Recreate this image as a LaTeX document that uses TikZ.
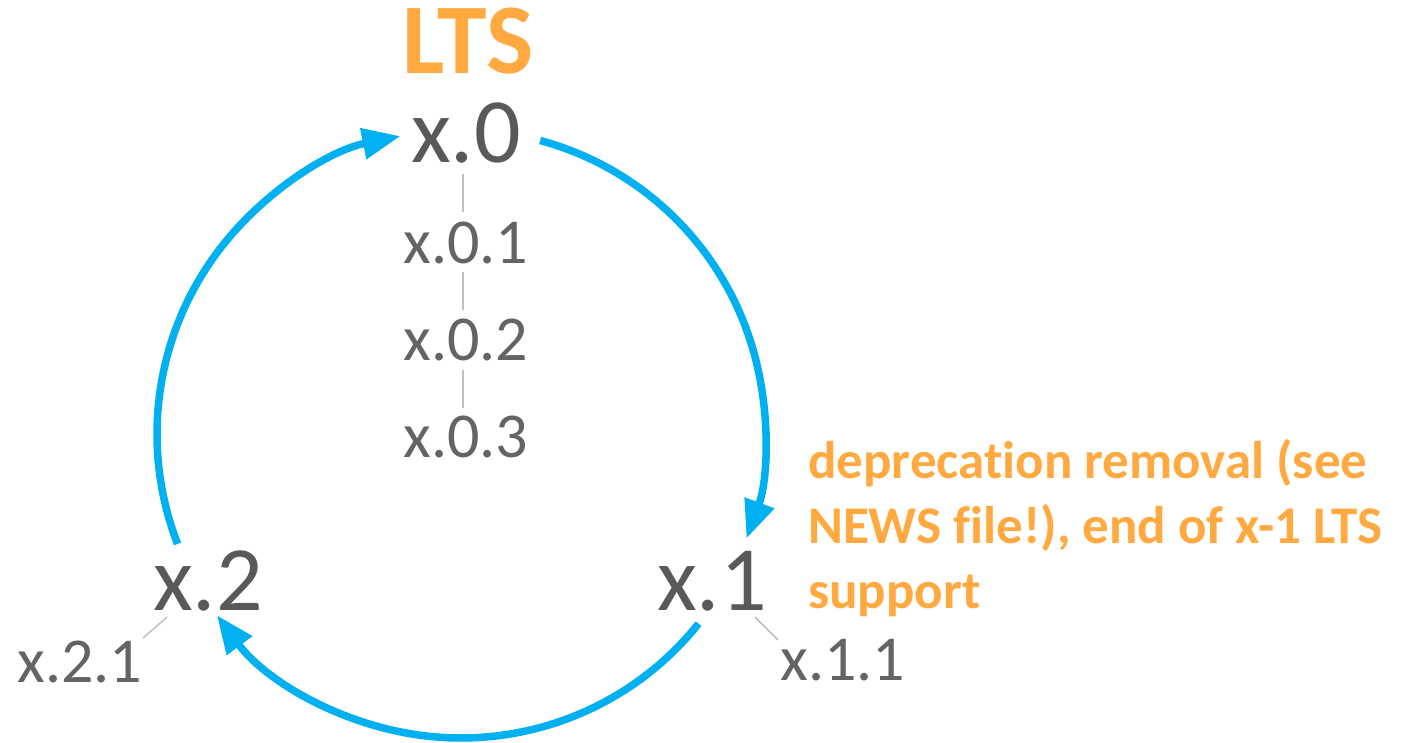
\documentclass[tikz,border=0pt]{standalone}
\usepackage{fontspec}
\setmainfont{Carlito}[Ligatures={NoCommon,NoContextual},RawFeature={-liga;-dlig;-calt}]
\usetikzlibrary{arrows.meta}
\definecolor{cblue}{HTML}{00B0F0}
\definecolor{corange}{HTML}{FFA940}
\definecolor{cgray}{HTML}{595959}
\definecolor{cgraysmall}{HTML}{646464}
\definecolor{clgray}{HTML}{BFBFBF}
\begin{document}
\begin{tikzpicture}[x=1pt,y=-1pt,
  big/.style={font=\fontsize{92}{100}\selectfont, text=cgray, inner sep=0pt, anchor=base},
  small/.style={font=\fontsize{64}{70}\selectfont, text=cgraysmall, inner sep=0pt, anchor=base},
  tick/.style={draw=clgray, line width=1.5pt},
  cyc/.style={draw=cblue, line width=7.5pt, -{Triangle[length=38pt,width=30pt]}}]
\useasboundingbox (0,0) rectangle (1406,742);
\coordinate (c) at (461,434);
\node[font=\fontsize{100}{110}\selectfont\bfseries, text=corange, inner sep=0pt, anchor=base] (lts) at (468,73) {LTS};
\node[big] (x0) at (466,162) {x.0};
\node[big] (x1) at (712,610) {x.1};
\node[big] (x2) at (208,610) {x.2};
\node[small] (x01) at (466,263) {x.0.1};
\node[small] (x02) at (466,360) {x.0.2};
\node[small] (x03) at (466,457) {x.0.3};
\node[small] (x11) at (843,680) {x.1.1};
\node[small] (x21) at (80,682) {x.2.1};
\node[font=\fontsize{53}{65}\selectfont\bfseries, text=corange, inner sep=0pt, anchor=base west, align=left] (note) at (808,608)
  {deprecat\kern0pt ion removal (see\\NEWS file!), end of x-1 LTS\\support};
\coordinate (t1a) at (463,174); \coordinate (t1b) at (463,212);
\coordinate (t2a) at (463,272); \coordinate (t2b) at (463,310);
\coordinate (t3a) at (463,370); \coordinate (t3b) at (463,408);
\coordinate (t4a) at (755,617); \coordinate (t4b) at (778,640);
\coordinate (t5a) at (167,617); \coordinate (t5b) at (143,638);
\draw[tick] (t1a) -- (t1b);
\draw[tick] (t2a) -- (t2b);
\draw[tick] (t3a) -- (t3b);
\draw[tick] (t4a) -- (t4b);
\draw[tick] (t5a) -- (t5b);
\draw[cyc] ([shift={(-74.9:304)}]c) arc[start angle=-74.9, end angle=20.1, radius=304];
\draw[cyc] ([shift={(38.6:304)}]c) arc[start angle=38.6, end angle=143.4, radius=304];
\draw[cyc] ([shift={(158.8:304)}]c) arc[start angle=158.8, end angle=258.5, radius=304];
\end{tikzpicture}
\end{document}
